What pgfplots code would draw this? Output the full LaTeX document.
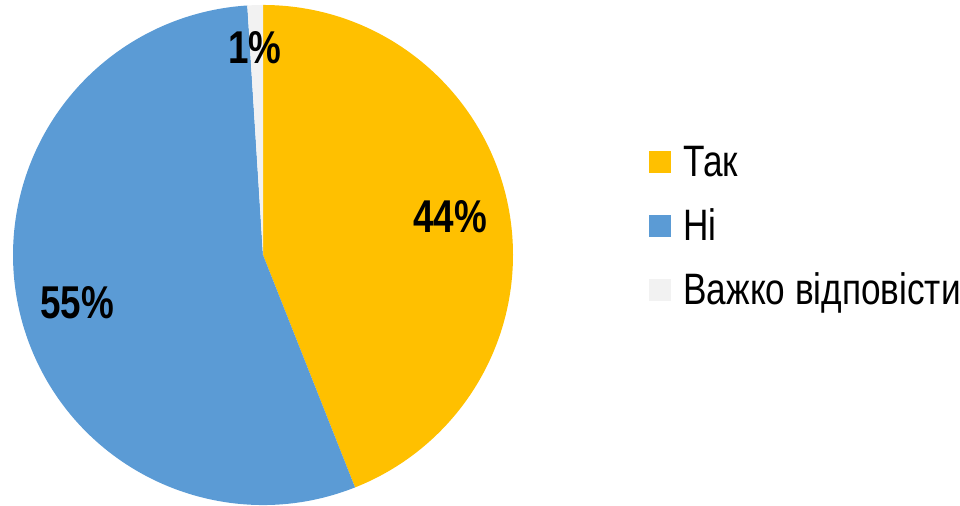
\documentclass[border=0pt]{standalone}
\usepackage{fontspec}
\setmainfont{Liberation Sans}[FakeStretch=0.8]
\usepackage{pgfplots}
\pgfplotsset{compat=1.18}
\definecolor{cYes}{HTML}{FFC000}
\definecolor{cNo}{HTML}{5B9BD5}
\definecolor{cHard}{HTML}{F2F2F2}
% values (percent)
\def\vA{44}
\def\vB{55}
\def\vC{1}
\pgfmathsetmacro{\aA}{90}
\pgfmathsetmacro{\aB}{\aA-3.6*\vA}
\pgfmathsetmacro{\aC}{\aB-3.6*\vB}
\pgfmathsetmacro{\aD}{\aC-3.6*\vC}
\begin{document}
\begin{tikzpicture}
\begin{axis}[
  scale only axis, width=480pt, height=253pt,
  xmin=0, xmax=960, ymin=0, ymax=506,
  hide axis, clip=false,
]
\path (axis cs:0,0) rectangle (axis cs:960,506);
\fill[cYes] (axis cs:263,251) -- ++(\aA:125pt) arc[start angle=\aA, end angle=\aB, radius=125pt] -- cycle;
\fill[cNo] (axis cs:263,251) -- ++(\aB:125pt) arc[start angle=\aB, end angle=\aC, radius=125pt] -- cycle;
\fill[cHard] (axis cs:263,251) -- ++(\aC:125pt) arc[start angle=\aC, end angle=\aD, radius=125pt] -- cycle;
\node[font=\fontsize{23}{26}\selectfont\bfseries] at (axis cs:450,289) {44\%};
\node[font=\fontsize{23}{26}\selectfont\bfseries] at (axis cs:77,203) {55\%};
\node[font=\fontsize{23}{26}\selectfont\bfseries] at (axis cs:255,458) {1\%};
% legend
\fill[cYes] (axis cs:649,333) rectangle (axis cs:671,355);
\fill[cNo] (axis cs:649,269) rectangle (axis cs:671,291);
\fill[cHard] (axis cs:649,205) rectangle (axis cs:671,227);
\node[anchor=base west, inner sep=0pt, font=\fontsize{22}{26}\selectfont] at (axis cs:683,329) {Так};
\node[anchor=base west, inner sep=0pt, font=\fontsize{22}{26}\selectfont] at (axis cs:683,265) {Ні};
\node[anchor=base west, inner sep=0pt, font=\fontsize{22}{26}\selectfont] at (axis cs:683,201) {Важко відповісти};
\end{axis}
\pgfresetboundingbox
\path (current axis.south west) rectangle (current axis.north east);
\end{tikzpicture}
\end{document}
